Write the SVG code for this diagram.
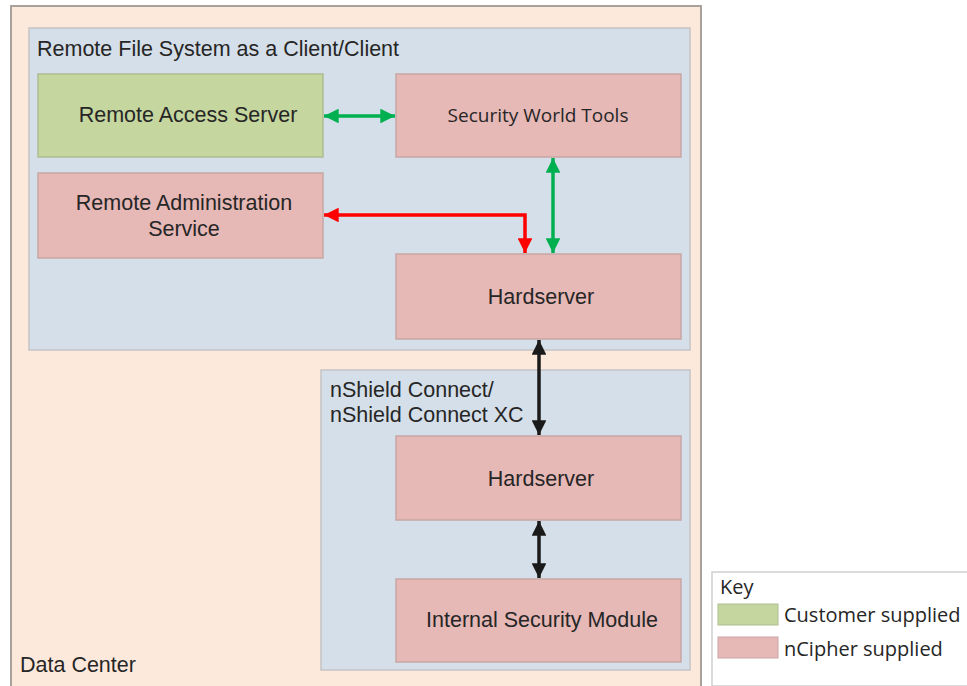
<svg xmlns="http://www.w3.org/2000/svg" width="967" height="686" viewBox="0 0 967 686">
<style>
.t{font-family:"Liberation Sans",Arial,sans-serif;font-size:21.5px;fill:#262626}
.c{text-anchor:middle}
.k{font-family:"Open Sans","Liberation Sans",sans-serif;font-size:20px;fill:#262626}
.grp{fill:#d5dfe9;stroke:#c4c4c4;stroke-width:1.5}
.pink{fill:#e6b8b6;stroke:#c8a6a4;stroke-width:1.5}
.green{fill:#c5d69f;stroke:#aebd90;stroke-width:1.5}
</style>
<defs>
<marker id="ag" viewBox="0 0 10 10" refX="10" refY="5" markerWidth="4.6" markerHeight="4.2" orient="auto-start-reverse" markerUnits="strokeWidth"><path d="M0,0L10,5L0,10z" fill="#00b050"/></marker>
<marker id="ar" viewBox="0 0 10 10" refX="10" refY="5" markerWidth="4.6" markerHeight="4.2" orient="auto-start-reverse" markerUnits="strokeWidth"><path d="M0,0L10,5L0,10z" fill="#ff0000"/></marker>
<marker id="ab" viewBox="0 0 10 10" refX="10" refY="5" markerWidth="4.6" markerHeight="4.2" orient="auto-start-reverse" markerUnits="strokeWidth"><path d="M0,0L10,5L0,10z" fill="#1a1a1a"/></marker>
</defs>
<rect width="967" height="686" fill="#ffffff"/>
<g id="datacenter">
<rect x="11" y="6" width="690" height="690" fill="#fde9dc" stroke="#a8a09a" stroke-width="2"/>
<text class="t" x="20" y="672">Data Center</text>
</g>
<g id="rfs">
<rect class="grp" x="29" y="28" width="661" height="322"/>
<text class="t" x="37" y="56">Remote File System as a Client/Client</text>
</g>
<g id="nshield">
<rect class="grp" x="321" y="370" width="369" height="300"/>
<text class="t" x="330" y="397">nShield Connect/</text>
<text class="t" x="330" y="422">nShield Connect XC</text>
</g>
<g id="ras">
<rect class="green" x="38" y="74" width="285" height="83"/>
<text class="t c" x="188" y="122">Remote Access Server</text>
</g>
<g id="swt">
<rect class="pink" x="396" y="74" width="285" height="83"/>
<text class="k c" x="538" y="122" style="font-size:19px">Security World Tools</text>
</g>
<g id="rad">
<rect class="pink" x="38" y="173" width="285" height="85"/>
<text class="t c" x="184" y="210">Remote Administration</text>
<text class="t c" x="184" y="236">Service</text>
</g>
<g id="hs1">
<rect class="pink" x="396" y="254" width="285" height="85"/>
<text class="t c" x="541" y="304">Hardserver</text>
</g>
<g id="hs2">
<rect class="pink" x="396" y="436" width="285" height="84"/>
<text class="t c" x="541" y="486">Hardserver</text>
</g>
<g id="ism">
<rect class="pink" x="396" y="579" width="285" height="83"/>
<text class="t c" x="542" y="627">Internal Security Module</text>
</g>
<g id="connectors" fill="none" stroke-width="3.5">
<path d="M324,116H395" stroke="#00b050" marker-start="url(#ag)" marker-end="url(#ag)"/>
<path d="M553,158V253" stroke="#00b050" marker-start="url(#ag)" marker-end="url(#ag)"/>
<path d="M324,215H525V253" stroke="#ff0000" marker-start="url(#ar)" marker-end="url(#ar)"/>
<path d="M539,340V435" stroke="#1a1a1a" marker-start="url(#ab)" marker-end="url(#ab)"/>
<path d="M539,521V578" stroke="#1a1a1a" marker-start="url(#ab)" marker-end="url(#ab)"/>
</g>
<g id="key">
<rect x="712" y="572" width="262" height="114" fill="#ffffff" stroke="#d0d0d0" stroke-width="1.5"/>
<text class="k" x="720" y="594">Key</text>
<rect x="718" y="604" width="60" height="21" fill="#c5d69f" stroke="#aebd90"/>
<text class="k" x="784" y="622">Customer supplied</text>
<rect x="718" y="637" width="60" height="21" fill="#e6b8b6" stroke="#c8a6a4"/>
<text class="k" x="784" y="656">nCipher supplied</text>
</g>
</svg>
